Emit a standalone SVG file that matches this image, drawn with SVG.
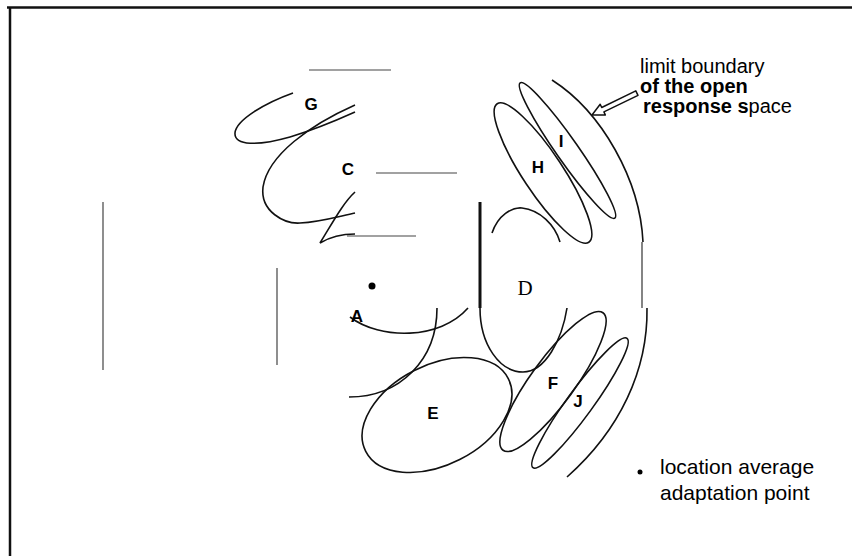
<svg xmlns="http://www.w3.org/2000/svg" width="852" height="556" viewBox="0 0 852 556">
<style>
.c{fill:none;stroke:#111;stroke-width:1.6}
.t{fill:none;stroke:#444;stroke-width:1.2}
.lb{font-family:"Liberation Sans",Arial,sans-serif;font-weight:bold;font-size:17px;fill:#000;text-anchor:middle}
.tx{font-family:"Liberation Sans",Arial,sans-serif;font-size:20px;fill:#000}
.tb{font-family:"Liberation Sans",Arial,sans-serif;font-size:21px;fill:#000}
.bd{font-weight:bold}
</style>
<rect width="852" height="556" fill="#fff"/>
<g id="frame">
<line x1="7" y1="7.5" x2="852" y2="7.5" stroke="#111" stroke-width="2.5"/>
<line x1="10" y1="7" x2="10" y2="556" stroke="#111" stroke-width="2.5"/>
</g>
<g id="rules">
<line class="t" x1="309" y1="70" x2="391" y2="70"/>
<line class="t" x1="376" y1="173" x2="457" y2="173"/>
<line class="t" x1="347" y1="236" x2="416" y2="236"/>
<line class="t" x1="103" y1="202" x2="103" y2="370"/>
<line class="t" x1="277" y1="268" x2="277" y2="365"/>
<line x1="480" y1="202" x2="480" y2="308" stroke="#111" stroke-width="3"/>
</g>
<g id="node-G">
<path class="c" d="M293,93 C265,103 236,120 235,133 C234,146 258,146 290,137 C310,131 335,121 355,112"/>
<text class="lb" x="311" y="110">G</text>
</g>
<g id="node-C">
<path class="c" d="M355,105 C310,125 268,155 263,187 C260,212 285,224 300,223 C320,222 340,216 355,213"/>
<path class="c" d="M355,192 C343,203 333,222 320,243 C330,237 342,234 355,234"/>
<text class="lb" x="348" y="175">C</text>
</g>
<g id="node-A">
<circle cx="372" cy="286" r="3.5" fill="#000"/>
<path class="c" d="M350,317 C380,340 440,340 468,308"/>
<path class="c" d="M437,308 C437,360 400,397 349,397"/>
<text class="lb" x="357" y="322">A</text>
</g>
<g id="node-D">
<path class="c" d="M492,233 C498,215 512,207 522,208 C540,210 555,225 560,242"/>
<path class="c" d="M480,308 C480,345 500,372 523,372 C545,372 562,340 567,308"/>
<text x="525" y="295" font-family="Liberation Serif,'Times New Roman',serif" font-size="21" text-anchor="middle" fill="#000">D</text>
</g>
<g id="node-E">
<ellipse class="c" cx="437" cy="415" rx="80" ry="50" transform="rotate(-27 437 415)"/>
<text class="lb" x="433" y="419">E</text>
</g>
<g id="node-H">
<ellipse class="c" cx="543" cy="173" rx="83" ry="20" transform="rotate(56.5 543 173)"/>
<text class="lb" x="538" y="173">H</text>
</g>
<g id="node-I">
<ellipse class="c" cx="567.5" cy="150.5" rx="82.5" ry="11" transform="rotate(55 567.5 150.5)"/>
<text class="lb" x="561" y="147">I</text>
</g>
<g id="node-F">
<ellipse class="c" cx="553" cy="381.5" rx="85" ry="22" transform="rotate(-54 553 381.5)"/>
<text class="lb" x="553" y="389">F</text>
</g>
<g id="node-J">
<ellipse class="c" cx="580" cy="403" rx="80" ry="13" transform="rotate(-54 580 403)"/>
<text class="lb" x="578" y="407">J</text>
</g>
<g id="boundary">
<path class="c" d="M552,80 C602,112 640,180 643,242"/>
<line x1="642" y1="242" x2="642" y2="308" stroke="#333" stroke-width="1.2"/>
<path class="c" d="M647,308 C648,370 620,430 567,477"/>
</g>
<g id="connectors">
<polygon points="592,115 605.4,115.1 603.9,111.9 638,95.3 635.8,90.8 601.7,107.5 600.2,104.3" fill="#fff" stroke="#111" stroke-width="1.5" stroke-linejoin="round"/>
</g>
<g id="legend-boundary">
<text class="tx" x="640" y="73">limit boundary</text>
<text class="tx bd" x="640" y="93">of the open</text>
<text class="tx" x="643" y="113"><tspan class="bd">response s</tspan>pace</text>
</g>
<g id="legend-point">
<circle cx="640" cy="472" r="2.5" fill="#000"/>
<text class="tb" x="660" y="474">location average</text>
<text class="tb" x="660" y="500">adaptation point</text>
</g>
</svg>
